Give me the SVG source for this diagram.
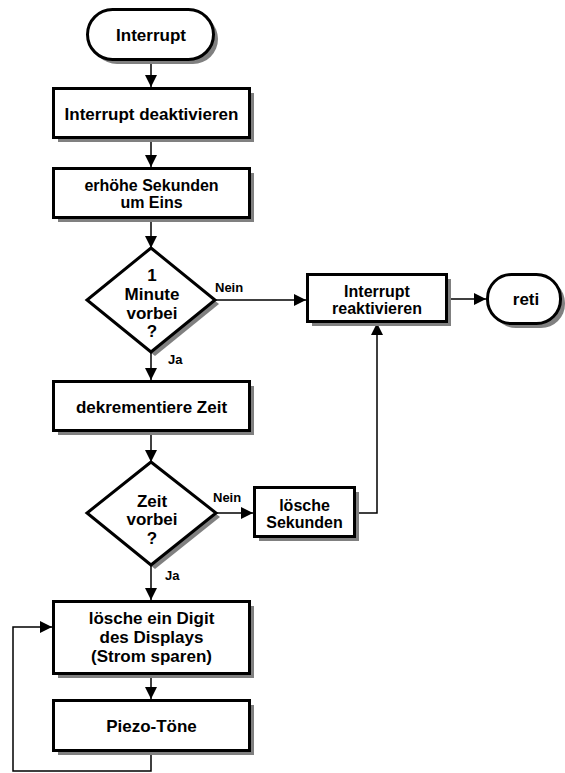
<svg xmlns="http://www.w3.org/2000/svg" width="565" height="773" viewBox="0 0 565 773">
<style>
.shape{fill:#fff;stroke:#000;stroke-width:3}
.shadow{fill:#808080;stroke:none}
.t{font-family:"Liberation Sans",Arial,Helvetica,sans-serif;font-weight:bold;font-size:17px;text-anchor:middle;fill:#000}
.t2{font-family:"Liberation Sans",Arial,Helvetica,sans-serif;font-weight:bold;font-size:16px;text-anchor:middle;fill:#000}
.lbl{font-family:"Liberation Sans",Arial,Helvetica,sans-serif;font-weight:bold;font-size:13px;fill:#000}
.c{fill:none;stroke:#000;stroke-width:1.5}
</style>
<defs>
<marker id="ah" markerUnits="userSpaceOnUse" markerWidth="12" markerHeight="12" viewBox="0 0 12 12" refX="12" refY="6" orient="auto">
<path d="M0,0 L12,6 L0,12 z" fill="#000"/>
</marker>
</defs>
<rect width="565" height="773" fill="#fff"/>
<g id="connectors">
<path class="c" d="M151,61 V87" marker-end="url(#ah)"/>
<path class="c" d="M151,139 V167" marker-end="url(#ah)"/>
<path class="c" d="M151,219 V248" marker-end="url(#ah)"/>
<path class="c" d="M151,352 V380" marker-end="url(#ah)"/>
<path class="c" d="M215,300 H306" marker-end="url(#ah)"/>
<path class="c" d="M448,299 H486" marker-end="url(#ah)"/>
<path class="c" d="M151,432 V462" marker-end="url(#ah)"/>
<path class="c" d="M216,513 H253" marker-end="url(#ah)"/>
<path class="c" d="M356,513 H377 V323" marker-end="url(#ah)"/>
<path class="c" d="M151,565 V600" marker-end="url(#ah)"/>
<path class="c" d="M151,675 V699" marker-end="url(#ah)"/>
<path class="c" d="M151,752 V771 H13 V627 H52" marker-end="url(#ah)"/>
<text class="lbl" x="215" y="292">Nein</text>
<text class="lbl" x="168" y="364">Ja</text>
<text class="lbl" x="213" y="502">Nein</text>
<text class="lbl" x="165" y="580">Ja</text>
</g>
<g id="start">
<rect class="shadow" x="92" y="14" width="126" height="50" rx="25"/>
<rect class="shape" x="87.5" y="9.5" width="126" height="50" rx="25"/>
<text class="t" x="151" y="41">Interrupt</text>
</g>
<g id="deaktivieren">
<rect class="shadow" x="58" y="93" width="196" height="49"/>
<rect class="shape" x="53.5" y="88.5" width="196" height="49"/>
<text class="t" x="151.5" y="120">Interrupt deaktivieren</text>
</g>
<g id="sekunden">
<rect class="shadow" x="58" y="173" width="196" height="49"/>
<rect class="shape" x="53.5" y="168.5" width="196" height="49"/>
<text class="t2" x="151.5" y="190.5">erhöhe Sekunden</text>
<text class="t2" x="151.5" y="207.5">um Eins</text>
</g>
<g id="minute">
<polygon class="shadow" points="155,252 219,304 155,356 91,304"/>
<polygon class="shape" points="151,248 215,300 151,352 87,300"/>
<text class="t" x="152" y="281">1</text>
<text class="t" x="152" y="300">Minute</text>
<text class="t" x="152" y="318.5">vorbei</text>
<text class="t" x="152" y="337">?</text>
</g>
<g id="reaktivieren">
<rect class="shadow" x="312" y="279" width="139" height="47"/>
<rect class="shape" x="307.5" y="274.5" width="139" height="47"/>
<text class="t2" x="377" y="297">Interrupt</text>
<text class="t2" x="377" y="314">reaktivieren</text>
</g>
<g id="reti">
<rect class="shadow" x="492" y="279" width="73" height="49" rx="24"/>
<rect class="shape" x="487.5" y="274.5" width="73" height="49" rx="24"/>
<text class="t" x="526" y="305">reti</text>
</g>
<g id="dekrementiere">
<rect class="shadow" x="58" y="386" width="196" height="49"/>
<rect class="shape" x="53.5" y="381.5" width="196" height="49"/>
<text class="t" x="151.5" y="413">dekrementiere Zeit</text>
</g>
<g id="zeit">
<polygon class="shadow" points="155,466 220,517 155,569 91,517"/>
<polygon class="shape" points="151,462 216,513 151,565 87,513"/>
<text class="t" x="152" y="506.5">Zeit</text>
<text class="t" x="152" y="525">vorbei</text>
<text class="t" x="152" y="543.5">?</text>
</g>
<g id="loesche-sekunden">
<rect class="shadow" x="259" y="492" width="100" height="49"/>
<rect class="shape" x="254.5" y="487.5" width="100" height="49"/>
<text class="t2" x="304.5" y="510.5">lösche</text>
<text class="t2" x="304.5" y="527.5">Sekunden</text>
</g>
<g id="digit">
<rect class="shadow" x="58" y="606" width="196" height="72"/>
<rect class="shape" x="53.5" y="601.5" width="196" height="72"/>
<text class="t" x="151.5" y="624">lösche ein Digit</text>
<text class="t" x="151.5" y="643">des Displays</text>
<text class="t" x="151.5" y="662">(Strom sparen)</text>
</g>
<g id="piezo">
<rect class="shadow" x="58" y="705" width="196" height="50"/>
<rect class="shape" x="53.5" y="700.5" width="196" height="50"/>
<text class="t" x="151.5" y="732">Piezo-Töne</text>
</g>
</svg>
